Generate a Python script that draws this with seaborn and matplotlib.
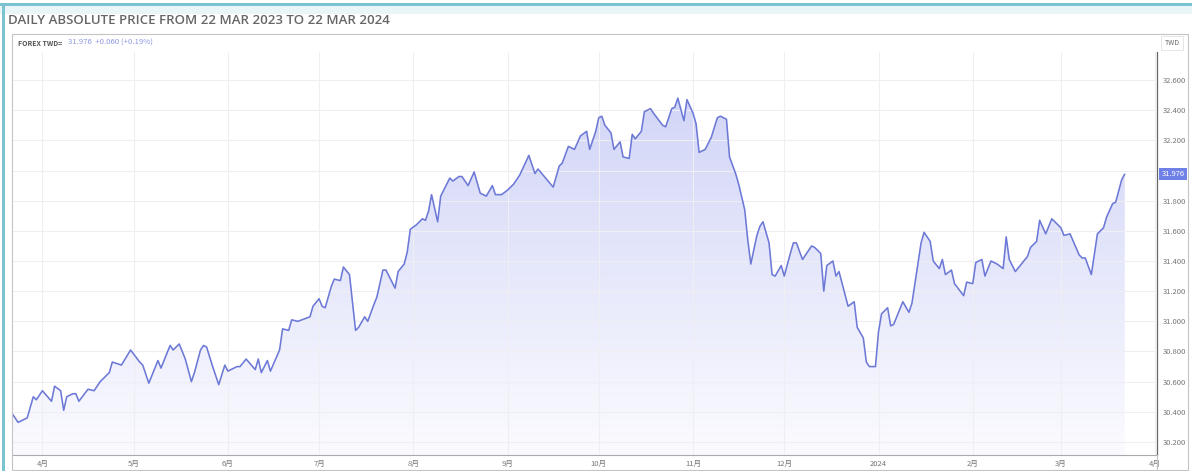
import numpy as np
import pandas as pd
import matplotlib
matplotlib.use("Agg")
import matplotlib.pyplot as plt
import matplotlib.dates as mdates
import matplotlib.transforms as mtransforms
from matplotlib.colors import LinearSegmentedColormap
from matplotlib.patches import Rectangle
from matplotlib.lines import Line2D
import seaborn as sns

# data
START = "2023-03-22"
TITLE = "DAILY ABSOLUTE PRICE FROM 22 MAR 2023 TO 22 MAR 2024"
SYMBOL = "FOREX TWD="
QUOTE = "31.976  +0.060 (+0.19%)"
CURRENCY = "TWD"
LAST_PRICE = 31.976

# days since START
day_offset = [0, 2, 3, 5, 7, 8, 10, 13, 14, 16, 17, 18, 20, 21, 22, 25, 27, 29, 32, 33,
              36, 39, 42, 43, 45, 48, 49, 52, 53, 55, 57, 59, 60, 62, 63, 64, 66, 68, 70, 71,
              74, 75, 77, 80, 81, 82, 84, 85, 88, 89, 91, 92, 94, 98, 99, 101, 102, 103, 105, 106,
              108, 109, 111, 113, 114, 116, 117, 119, 120, 122, 123, 126, 127, 129, 130, 131, 133, 135, 136, 137,
              138, 140, 141, 143, 144, 145, 147, 148, 150, 152, 154, 156, 158, 159, 161, 163, 165, 167, 170, 172,
              173, 178, 180, 181, 183, 185, 187, 189, 190, 192, 193, 194, 195, 197, 198, 200, 201, 203, 204, 205,
              207, 208, 210, 211, 214, 215, 217, 218, 219, 221, 222, 224, 225, 226, 228, 230, 232, 233, 235, 236,
              238, 239, 241, 242, 243, 245, 246, 247, 249, 250, 251, 253, 254, 256, 257, 258, 260, 263, 264, 266,
              267, 268, 270, 271, 272, 275, 277, 278, 280, 281, 282, 284, 285, 286, 288, 289, 290, 292, 293, 295,
              296, 299, 300, 302, 303, 305, 306, 307, 309, 310, 313, 314, 316, 317, 319, 320, 322, 324, 326, 327,
              328, 330, 334, 335, 337, 338, 340, 342, 345, 346, 348, 351, 352, 353, 355, 357, 359, 360, 362, 363,
              365, 366]
price = [30.39, 30.33, 30.34, 30.36, 30.50, 30.48, 30.54, 30.47, 30.57, 30.54, 30.41, 30.50, 30.52, 30.52, 30.47, 30.55, 30.54, 30.60, 30.66, 30.73,
         30.71, 30.81, 30.73, 30.71, 30.59, 30.74, 30.69, 30.84, 30.81, 30.85, 30.75, 30.60, 30.66, 30.81, 30.84, 30.83, 30.70, 30.58, 30.71, 30.67,
         30.70, 30.70, 30.75, 30.68, 30.75, 30.66, 30.74, 30.67, 30.81, 30.95, 30.94, 31.01, 31.00, 31.03, 31.10, 31.15, 31.10, 31.09, 31.23, 31.28,
         31.27, 31.36, 31.31, 30.94, 30.96, 31.03, 31.00, 31.11, 31.16, 31.34, 31.34, 31.22, 31.33, 31.38, 31.46, 31.61, 31.64, 31.68, 31.67, 31.73,
         31.84, 31.66, 31.83, 31.91, 31.95, 31.93, 31.96, 31.96, 31.90, 31.99, 31.85, 31.83, 31.90, 31.84, 31.84, 31.87, 31.91, 31.97, 32.10, 31.98,
         32.01, 31.89, 32.03, 32.05, 32.16, 32.14, 32.23, 32.26, 32.14, 32.26, 32.35, 32.36, 32.30, 32.25, 32.14, 32.19, 32.09, 32.08, 32.24, 32.21,
         32.26, 32.39, 32.41, 32.38, 32.30, 32.29, 32.41, 32.42, 32.48, 32.33, 32.47, 32.38, 32.31, 32.12, 32.14, 32.22, 32.35, 32.36, 32.34, 32.09,
         31.98, 31.91, 31.74, 31.54, 31.38, 31.57, 31.63, 31.66, 31.52, 31.31, 31.30, 31.37, 31.30, 31.45, 31.52, 31.52, 31.41, 31.50, 31.49, 31.45,
         31.20, 31.37, 31.40, 31.30, 31.33, 31.10, 31.13, 30.96, 30.89, 30.73, 30.70, 30.70, 30.93, 31.05, 31.09, 30.97, 30.98, 31.08, 31.13, 31.06,
         31.12, 31.52, 31.59, 31.53, 31.40, 31.35, 31.41, 31.31, 31.34, 31.25, 31.17, 31.26, 31.25, 31.39, 31.41, 31.30, 31.40, 31.38, 31.35, 31.56,
         31.41, 31.33, 31.43, 31.49, 31.53, 31.67, 31.58, 31.68, 31.62, 31.57, 31.58, 31.44, 31.42, 31.42, 31.31, 31.58, 31.62, 31.69, 31.78, 31.79,
         31.94, 31.976]

month_labels = ["4月", "5月", "6月", "7月", "8月", "9月", "10月", "11月", "12月", "2024", "2月", "3月", "4月"]
y_ticks = [30.2, 30.4, 30.6, 30.8, 31.0, 31.2, 31.4, 31.6, 31.8, 32.0, 32.2, 32.4, 32.6]

LINE = "#6d79d6"
TEXT_GREY = "#777777"

df = pd.DataFrame({
    "date": pd.Timestamp(START) + pd.to_timedelta(day_offset, unit="D"),
    "price": price,
})

sns.set_style("white")
plt.rcParams["font.family"] = ["Noto Sans CJK JP", "DejaVu Sans"]

W, H = 1192, 471
fig = plt.figure(figsize=(W / 100, H / 100), dpi=100)
ax = fig.add_axes([12 / W, 1 - 455 / H, (1157 - 12) / W, (455 - 52) / H])

y_bottom = 30.2 - 13 / 150.8
y_top = 32.6 + 28 / 150.8
x0 = mdates.date2num(pd.Timestamp(START))
x1 = x0 + 376.6

sns.lineplot(data=df, x="date", y="price", ax=ax, color=LINE, linewidth=1.15, zorder=4)

# gradient under the curve
poly = ax.fill_between(df["date"], df["price"], y_bottom, facecolor="none", edgecolor="none")
cmap = LinearSegmentedColormap.from_list("fade", ["#fbfbff", "#cdd1f6"])
grad = np.linspace(0, 1, 256).reshape(-1, 1)
im = ax.imshow(grad, extent=[x0, x1, y_bottom, y_top], aspect="auto", cmap=cmap,
               origin="lower", zorder=1, interpolation="bicubic")
im.set_clip_path(poly.get_paths()[0], transform=ax.transData)

ax.set_xlim(x0, x1)
ax.set_ylim(y_bottom, y_top)
ax.set_xlabel("")
ax.set_ylabel("")

month_starts = mdates.date2num(pd.date_range("2023-04-01", periods=len(month_labels), freq="MS"))
ax.set_xticks(month_starts)
ax.set_xticklabels(month_labels)
ax.yaxis.tick_right()
ax.set_yticks(y_ticks)
ax.set_yticklabels([f"{v:.3f}" for v in y_ticks])
ax.tick_params(axis="x", length=0, pad=3.5, labelsize=5.5, labelcolor=TEXT_GREY)
ax.tick_params(axis="y", length=0, pad=4.5, labelsize=5.5, labelcolor=TEXT_GREY)

ax.set_axisbelow(False)
ax.grid(True, color="#efeff3", linewidth=0.8, zorder=2)

for side in ["top", "left"]:
    ax.spines[side].set_visible(False)
ax.spines["right"].set_color("#666666")
ax.spines["right"].set_linewidth(0.9)
ax.spines["bottom"].set_color("#aaaaaa")
ax.spines["bottom"].set_linewidth(0.8)

# last price tag (covers the 32.000 label as in the source)
tag_tr = mtransforms.blended_transform_factory(ax.transAxes, ax.transData)
ax.text(1.004, LAST_PRICE, f"{LAST_PRICE:.3f}", transform=tag_tr, ha="left", va="center",
        color="white", fontsize=5.5, zorder=10, clip_on=False,
        bbox=dict(boxstyle="square,pad=0.3", facecolor="#6f80e6", edgecolor="none"))

# panel frame and page decoration
fig.add_artist(Rectangle((12 / W, 1 - 470 / H), (1188 - 12) / W, (470 - 34) / H,
                         transform=fig.transFigure, fill=False, edgecolor="#c4c4c4", linewidth=0.8))
fig.add_artist(Line2D([1157 / W, 1157 / W], [1 - 455 / H, 1 - 470 / H],
                      transform=fig.transFigure, color="#c4c4c4", linewidth=0.8))
fig.add_artist(Rectangle((0, 1 - 6 / H), 1, 3 / H, transform=fig.transFigure,
                         facecolor="#7cc3d2", edgecolor="none"))
fig.add_artist(Rectangle((0, 1 - 14 / H), 1, 8 / H, transform=fig.transFigure,
                         facecolor="#eaf5f8", edgecolor="none"))
fig.add_artist(Rectangle((2 / W, 0), 3 / W, 1 - 3 / H, transform=fig.transFigure,
                         facecolor="#7cc3d2", edgecolor="none"))

fig.text(8 / W, 1 - 20 / H, TITLE, fontsize=9.5, color="#666666", family="Open Sans",
         weight="semibold", va="center", ha="left")
fig.text(18 / W, 1 - 43 / H, SYMBOL, fontsize=5, color="#555555", weight="bold", va="center")
fig.text(68 / W, 1 - 43 / H, QUOTE, fontsize=5.6, color="#8d98e3", va="center")
fig.text(1172 / W, 1 - 43 / H, CURRENCY, fontsize=5, color="#666666", va="center", ha="center",
         bbox=dict(boxstyle="square,pad=0.5", facecolor="white", edgecolor="#e2e2e2", linewidth=0.6))

fig.savefig("out.png", dpi=100)
